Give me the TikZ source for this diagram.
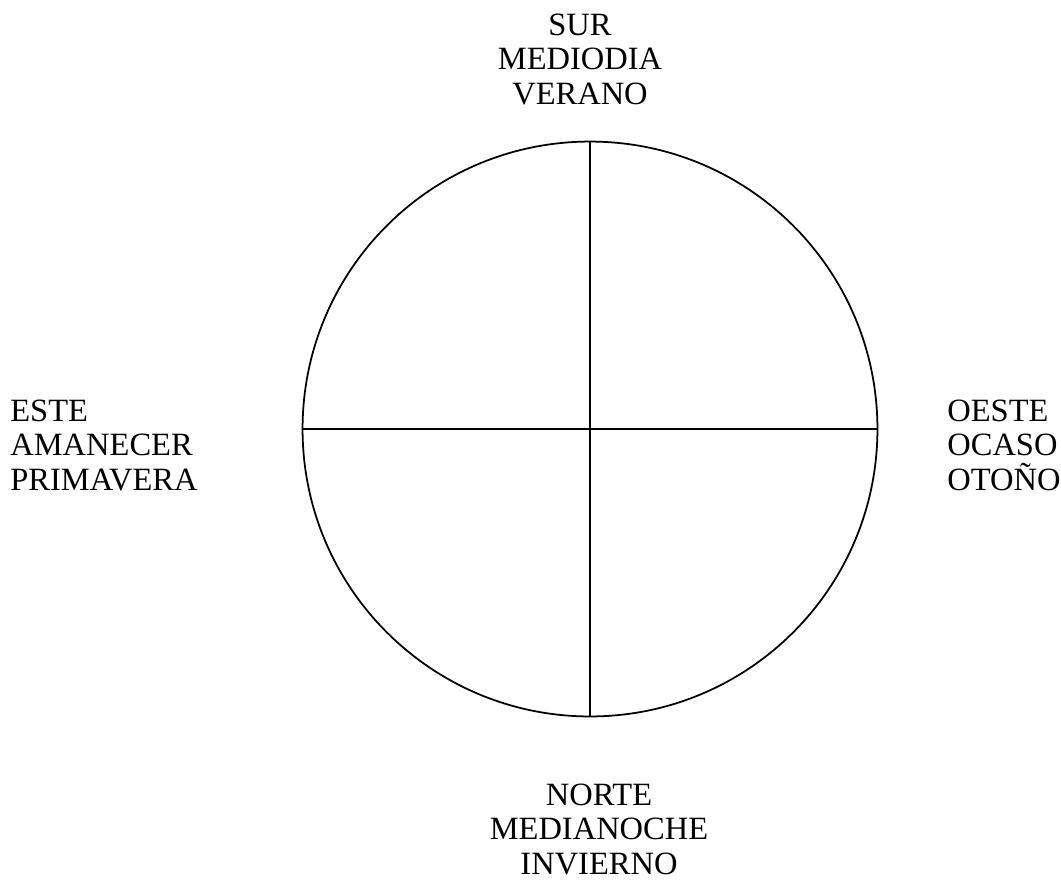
\documentclass[tikz,border=0pt]{standalone}
\usepackage{fontspec}
\setmainfont{Liberation Serif}
\usetikzlibrary{positioning}
\tikzset{
  every node/.style={font=\fontsize{18.5}{19.6}\selectfont},
  dial/.style  = {circle, draw, line width=1pt, minimum size=11.5cm, inner sep=0pt},
  axis/.style  = {line width=1pt},
  label/.style = {inner sep=0pt, anchor=base},
}

\begin{document}
\begin{tikzpicture}[x=0.02cm, y=-0.02cm]
  \useasboundingbox (0,0) rectangle (1061,880);

  \node[dial] (c) at (590,429) {};

  \draw[axis] (c.north) -- (c.south);
  \draw[axis] (c.west)  -- (c.east);

  % base anchor = last line
  \node[label, align=center]                 (sur)   at (580,104) {SUR\\MEDIODIA\\VERANO};
  \node[label, align=left, anchor=base west] (este)  at (10,490)  {ESTE\\AMANECER\\PRIMAVERA};
  \node[label, align=left, anchor=base west] (oeste) at (947,490) {OESTE\\OCASO\\OTOÑO};
  \node[label, align=center]                 (norte) at (599,874) {NORTE\\MEDIANOCHE\\INVIERNO};
\end{tikzpicture}
\end{document}
